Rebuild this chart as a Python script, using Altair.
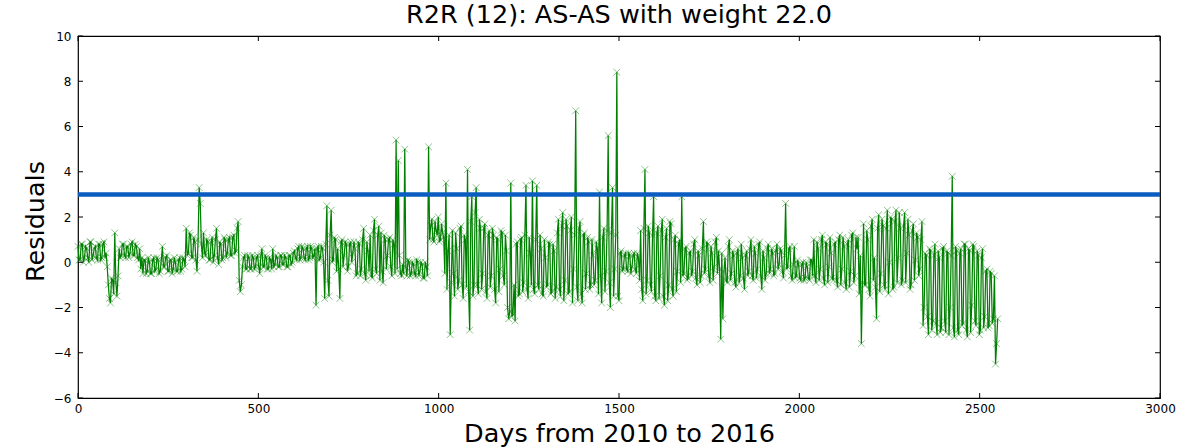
import altair as alt
import pandas as pd

# ---- data ----
# Two interleaved sets of readings: "main" at days 0, 6, 12, ... and
# "mid" at days 3, 9, 15, ... (the dense zig-zag of the original series).
step_days = 6

main_2010 = [
    0.7, 0.1, 0.8, 0.2, 0.6, 0.0, 0.9, 0.3, 0.7, 0.1,       # 0-54
    0.8, 0.2, 0.9, 0.4, -1.0, -1.8, -0.8, 1.3, -1.5, 0.6,   # 60-114
    0.3, 0.8, 0.2, 0.7, 0.4, 0.9, 0.3, 0.7, 0.1, -0.3,      # 120-174
    -0.5, 0.1, -0.4, 0.0, -0.5, 0.2, -0.3, 0.1, -0.4, 0.7,  # 180-234
    -0.2, 0.3, -0.4, 0.1, -0.3, 0.0, -0.4, 0.2, -0.3, 0.1,  # 240-294
    1.5, 0.4, 1.2, 0.2, 0.9, -0.4, 3.3, 0.8, 1.3, 0.3,      # 300-354
    0.9, 0.1, 1.1, 0.3, 1.5, -0.1, 0.8, 0.2, 1.0, 0.4,      # 360-414
    1.1, 0.3, 1.2, 0.5, 1.8, -1.3, -0.2, 0.3, -0.3, 0.2,    # 420-474
    -0.3, 0.2, -0.2, 0.3, -0.5, 0.6, -0.2, 0.2, -0.3, 0.1,  # 480-534
    0.6, -0.1, 0.2, -0.2, 0.3, -0.1, 0.2, -0.2, 0.3, 0.0,   # 540-594
]
main_2011 = [
    0.5, 0.1, 0.7, 0.2, 0.6, 0.1, 0.7, 0.2, 0.6, 0.3,       # 600-654
    -1.9, 0.7, 0.2, 0.6, -1.6, 2.5, -1.5, 2.3, 0.1, 1.0,    # 660-714
    0.6, -1.6, 1.0, 0.3, 0.8, -0.2, 0.9, 0.4, 0.6, -0.5,    # 720-774
    0.8, -0.3, 1.5, -0.8, 0.5, 1.2, -0.7, 1.9, -0.5, 1.6,   # 780-834
    1.3, -0.9, 1.0, 0.3, 1.1, -0.6, 0.8, 5.4, 4.5, -0.5,    # 840-894
    -0.1, 5.0, -0.6, 0.0, -0.5, -0.1, -0.6, 0.0, -0.4, -0.1,  # 900-954
    -0.7, -0.2, 5.1, 1.6, 1.0, 1.8, 1.2, 0.9, 1.7, 1.1,     # 960-1014
    3.5, 0.5, -3.2, 1.4, -1.5, 0.6, -0.8, 1.6, -1.6, 1.0,   # 1020-1074
    4.1, -3.0, 2.9, -1.0, 3.3, -1.4, 1.5, -0.5, 1.7, -1.6,  # 1080-1134
    1.4, -0.6, 1.2, -1.8, 1.0, -0.3, 1.3, -1.0, 0.5, -2.5,  # 1140-1194
]
main_2013 = [
    3.5, -2.3, -2.6, 0.9, -1.4, 1.1, -0.9, 3.4, -1.6, 0.4,  # 1200-1254
    3.6, -1.4, 3.4, -1.2, 0.6, -1.5, 0.2, -1.0, 0.8, -1.3,  # 1260-1314
    0.5, -1.1, 1.9, -1.5, 2.2, -0.8, 1.6, -1.3, 2.0, -0.3,  # 1320-1374
    6.7, -1.7, 1.8, -1.8, 1.3, -0.5, 0.9, -1.0, 0.3, -0.8,  # 1380-1434
    0.6, 3.1, -1.8, 1.5, -0.4, 5.6, -2.0, 3.3, -0.3, 8.4,   # 1440-1494
    -1.7, 0.5, -0.3, 0.4, -0.4, 0.3, -0.2, 0.4, -0.5, 0.2,  # 1500-1554
    1.4, -1.7, 4.1, -0.8, 1.3, -1.3, 2.9, -1.7, 1.6, -0.6,  # 1560-1614
    1.9, -1.9, 1.5, -1.0, 1.7, -1.5, 1.2, -0.4, 1.0, 2.9,   # 1620-1674
    -0.5, 0.7, -0.7, 0.5, -0.4, 1.0, -1.0, 0.3, -0.6, 1.8,  # 1680-1734
    -0.3, 0.8, -0.9, 0.4, -0.2, 1.1, 0.5, -3.4, -2.5, 0.2,  # 1740-1794
]
main_2015 = [
    -0.9, 1.0, -0.5, 0.3, -1.1, 0.6, -0.6, 0.2, -1.2, 0.5,  # 1800-1854
    -0.4, 1.0, -0.8, 0.4, -0.3, 0.9, -1.2, 0.2, -0.5, 0.8,  # 1860-1914
    -0.3, 0.4, -0.5, 0.8, -0.1, 0.5, -0.7, 2.6, -0.2, 0.7,  # 1920-1974
    -0.8, 0.7, -0.6, -0.1, -0.8, 0.0, -0.7, -0.2, -0.8, 0.1,  # 1980-2034
    1.0, -0.9, 0.6, -0.3, 1.2, -1.0, 0.8, -0.2, 0.4, -0.8,  # 2040-2094
    0.9, -1.1, 1.2, -0.3, 0.7, -1.2, 1.0, -0.4, 1.3, -0.6,  # 2100-2154
    0.6, -1.4, -3.6, 1.7, -1.0, 1.0, -1.5, 1.9, 0.2, -2.5,  # 2160-2214
    2.1, -0.5, 1.6, -1.2, 2.3, 0.0, 1.9, -1.1, 2.3, 0.2,    # 2220-2274
    1.5, -0.8, 2.2, 0.4, 1.2, -1.0, 1.7, 0.1, 1.1, -0.3,    # 2280-2334
    1.8, -2.0, 0.3, -3.2, 0.5, -2.6, 0.8, -3.2, 0.2, -2.9,  # 2340-2394
    0.7, -3.1, 0.4, -2.0, 3.8, -3.3, 0.5, -3.2, 0.6, -2.7,  # 2400-2454
    0.8, -3.3, 0.5, -1.9, 0.7, -2.8, 0.3, -3.0, 0.6, -2.4,  # 2460-2514
    -0.3, -2.8, -0.5, -2.5, -4.5, -2.5,                     # 2520-2550
]

mid_2010 = [
    0.1, 0.8, 0.0, 0.7, 0.2, 0.9, 0.1, 0.6, 0.2, 0.8,       # 3-57
    0.1, 0.8, 0.2, -0.2, -1.6, -0.7, -1.4, -0.9, -0.6, 0.2,  # 63-117
    0.8, 0.3, 0.7, 0.2, 0.8, 0.3, 0.8, 0.2, 0.6, 0.2,       # 123-177
    0.1, -0.5, 0.2, -0.5, 0.1, -0.4, 0.2, -0.5, 0.1, -0.2,  # 183-237
    0.2, -0.4, 0.1, -0.5, 0.2, -0.4, 0.1, -0.4, 0.2, -0.2,  # 243-297
    0.3, 1.3, 0.2, 1.1, 0.1, 1.0, 2.6, 0.2, 0.4, 1.0,       # 303-357
    0.1, 0.9, 0.0, 1.0, 0.2, 0.9, 0.1, 1.1, 0.2, 1.0,       # 363-417
    0.3, 1.1, 0.4, 1.5, -0.8, -1.0, 0.2, -0.3, 0.3, -0.3,   # 423-477
    0.3, -0.3, 0.2, -0.2, 0.3, -0.2, 0.3, -0.3, 0.2, -0.3,  # 483-537
    -0.2, 0.3, -0.2, 0.3, -0.1, 0.3, -0.2, 0.3, -0.1, 0.4,  # 543-597
]
mid_2011 = [
    0.2, 0.6, 0.1, 0.7, 0.2, 0.6, 0.1, 0.7, 0.2, 0.6,       # 603-657
    0.6, 0.1, 0.7, 0.0, 0.8, -0.8, 1.2, 0.0, 1.1, -0.4,     # 663-717
    -0.3, 0.9, -0.2, 0.9, -0.4, 0.8, 0.0, 0.9, -0.6, 0.9,   # 723-777
    -0.6, 1.0, -0.5, 0.9, -0.4, -0.6, 1.4, -0.3, 1.2, -0.8, # 783-837
    -0.4, 1.2, -0.3, 1.0, -0.2, 1.0, -0.5, -0.3, 0.3, -0.6, # 843-897
    -0.5, -0.2, 0.1, -0.6, 0.0, -0.5, 0.1, -0.6, 0.0, -0.7, # 903-957
    0.0, -0.6, 1.0, 1.9, 0.9, 1.4, 2.0, 1.0, 1.3, -0.5,     # 963-1017
    -1.2, 1.2, -0.9, -0.5, 1.3, -1.2, 1.5, -1.0, 1.2, -1.1, # 1023-1077
    -1.3, 1.8, -1.5, 2.2, -1.0, 1.9, -1.2, 1.5, -1.3, 1.2,  # 1083-1137
    -1.1, 1.5, -1.2, 1.1, -1.3, 1.4, -0.6, 1.2, -2.0, -2.2, # 1143-1197
]
mid_2013 = [
    -2.4, -1.0, 0.8, -1.5, 1.0, -1.3, 1.2, -1.2, 1.1, -1.0,  # 1203-1257
    -1.2, 1.0, -1.0, 1.2, -1.4, 1.0, -1.1, 0.9, -1.4, 0.8,   # 1263-1317
    -1.6, 1.3, -1.2, 1.6, -1.7, 1.9, -1.4, 1.4, -1.8, 1.2,   # 1323-1377
    -1.1, 1.5, -1.4, 1.2, -1.2, 1.1, -1.2, 1.0, -1.0, 0.9,   # 1383-1437
    -1.4, -0.6, 1.1, -1.3, 1.4, -0.9, 1.3, -1.5, 1.2, -1.5,  # 1443-1497
    0.4, -0.4, 0.3, -0.3, 0.4, -0.5, 0.3, -0.3, 0.4, -0.8,   # 1503-1557
    -1.2, 1.5, -1.4, 1.6, -1.0, 1.2, -1.5, 1.3, -1.6, 1.4,   # 1563-1617
    -1.5, 1.1, -1.7, 1.8, -1.2, 1.0, -1.3, 0.8, -0.9, -0.6,  # 1623-1677
    0.6, -0.8, 0.4, -0.6, 0.8, -0.7, 0.5, -0.9, 0.6, -0.5,   # 1683-1737
    0.9, -0.6, 0.7, -0.8, 0.9, -0.5, -0.3, 0.4, -0.4, -0.8,  # 1743-1797
]
mid_2015 = [
    0.7, -0.8, 0.5, -0.9, 0.4, -0.9, 0.8, -0.7, 0.3, -0.6,   # 1803-1857
    0.6, -0.6, 0.7, -0.7, 0.8, -0.6, 0.5, -0.8, 0.6, -0.5,   # 1863-1917
    0.6, -0.6, 0.5, -0.3, 0.6, -0.4, 0.3, -0.3, 0.6, -0.6,   # 1923-1977
    -0.1, -0.7, 0.1, -0.7, -0.1, -0.8, 0.0, -0.7, 0.1, -0.6, # 1983-2037
    -0.6, 0.9, -0.8, 1.0, -0.7, 0.9, -0.9, 1.1, -0.7, 0.8,   # 2043-2097
    -0.8, 1.0, -1.0, 1.1, -0.9, 0.8, -1.1, 1.2, -0.9, 1.1,   # 2103-2157
    1.1, 0.3, -0.9, -1.0, 1.4, -1.2, 1.6, -0.8, -1.1, 1.5,   # 2163-2217
    -1.3, 1.9, -1.0, 1.5, -1.4, 2.0, -1.2, 1.8, -0.9, 2.2,   # 2223-2277
    -1.0, 1.6, -0.9, 1.9, -1.2, 1.4, -0.8, 1.3, -0.6, 1.0,   # 2283-2337
    -2.8, 0.4, -2.4, 0.6, -3.0, 0.3, -2.7, 0.5, -3.1, 0.6,   # 2343-2397
    -2.6, 0.5, -3.2, 0.3, -2.9, 0.7, -3.0, 0.4, -2.8, 0.8,   # 2403-2457
    -3.0, 0.6, -3.1, 0.8, -2.6, 0.5, -3.2, 0.2, -2.9, -0.4,  # 2463-2517
    -2.9, -0.4, -2.7, -0.6, -3.6,                            # 2523-2547
]

threshold = [3.0]
x_tick_values = [0, 500, 1000, 1500, 2000, 2500, 3000]
y_tick_values = [-6, -4, -2, 0, 2, 4, 6, 8, 10]

main_vals = main_2010 + main_2011 + main_2013 + main_2015
mid_vals = mid_2010 + mid_2011 + mid_2013 + mid_2015
rows = [(i * step_days, v) for i, v in enumerate(main_vals)]
rows += [(i * step_days + step_days // 2, v) for i, v in enumerate(mid_vals)]
df = pd.DataFrame(rows, columns=["day", "residual"]).sort_values("day")

W, H = 1082, 362
GREEN = "#008000"
BLUE = "#0b5cc0"
FONT = "DejaVu Sans"

xscale = alt.Scale(domain=[0, 3000], nice=False, zero=False)
yscale = alt.Scale(domain=[-6, 10], nice=False, zero=False)

x_axis = alt.Axis(
    values=x_tick_values, format="d", labelFlush=False, labelPadding=5,
    title="Days from 2010 to 2016", titleY=43, titleX=W / 2,
    titleBaseline="alphabetic", titleAlign="center",
)
y_axis = alt.Axis(
    values=y_tick_values, format="d", labelPadding=7,
    title="Residuals", titleAngle=270, titleX=-35, titleY=185,
    titleBaseline="alphabetic", titleAlign="center",
)

X = alt.X("day:Q", scale=xscale, axis=x_axis)
Y = alt.Y("residual:Q", scale=yscale, axis=y_axis)

base = alt.Chart(df)
line = base.mark_line(color=GREEN, strokeWidth=1.25).encode(x=X, y=Y, order="day:Q")
points = base.mark_point(
    shape="M-1,-1L1,1M-1,1L1,-1", filled=False, color=GREEN,
    strokeWidth=1, size=45, opacity=0.45,
).encode(x=X, y=Y)
thr = alt.Chart(pd.DataFrame({"residual": threshold})).mark_rule(
    color=BLUE, strokeWidth=4.5
).encode(y=Y)

ydf = pd.DataFrame({"residual": y_tick_values})
xdf = pd.DataFrame({"day": x_tick_values})
tick_left = alt.Chart(ydf).mark_rule(color="black", strokeWidth=1).encode(
    y=Y, x=alt.value(0), x2=alt.value(5))
tick_right = alt.Chart(ydf).mark_rule(color="black", strokeWidth=1).encode(
    y=Y, x=alt.value(W - 5), x2=alt.value(W))
tick_bottom = alt.Chart(xdf).mark_rule(color="black", strokeWidth=1).encode(
    x=X, y=alt.value(H), y2=alt.value(H - 5))
tick_top = alt.Chart(xdf).mark_rule(color="black", strokeWidth=1).encode(
    x=X, y=alt.value(0), y2=alt.value(5))

chart = alt.layer(
    line, points, thr, tick_left, tick_right, tick_bottom, tick_top
).properties(
    width=W, height=H,
    title=alt.TitleParams(
        "R2R (12): AS-AS with weight 22.0", font=FONT, fontSize=25.5,
        fontWeight="normal", color="black", anchor="middle", frame="group",
        offset=2,
    ),
    background="white",
    autosize=alt.AutoSizeParams(type="none"),
    padding={"left": 78, "top": 36, "right": 40, "bottom": 49},
).configure_view(
    stroke="black", strokeWidth=1.2
).configure_axis(
    domain=False, ticks=False, grid=False,
    labelFont=FONT, labelFontSize=12, labelColor="black",
    titleFont=FONT, titleFontSize=25.5, titleFontWeight="normal", titleColor="black",
)

chart.save("out.html", embed_options={"renderer": "svg", "actions": False})
